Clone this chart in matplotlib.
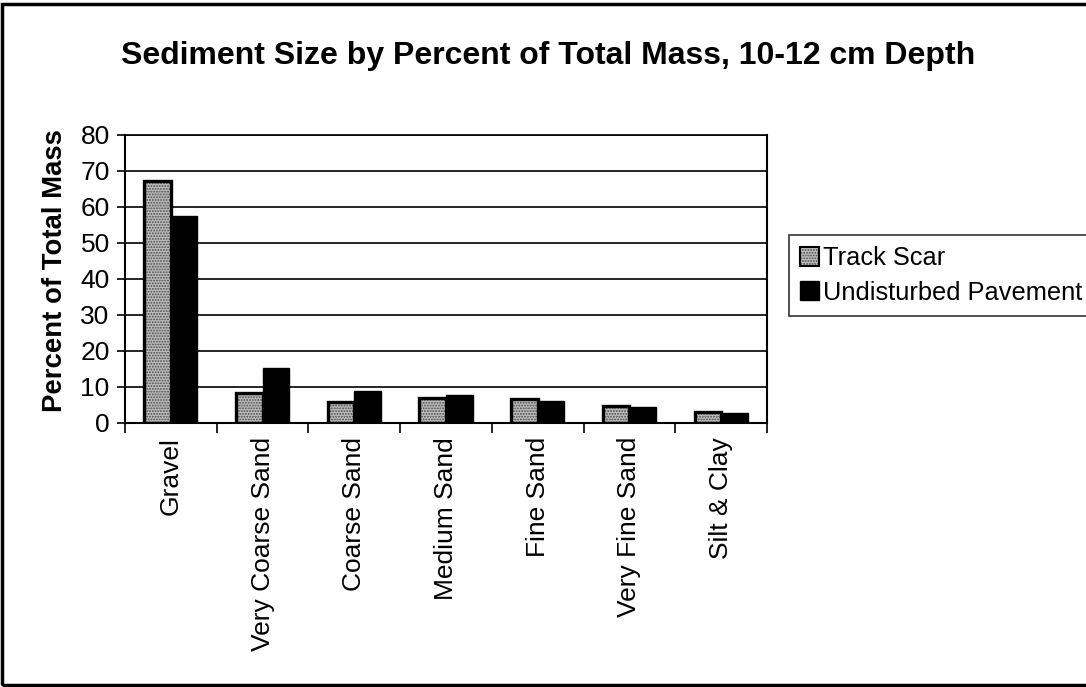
import matplotlib
matplotlib.use("Agg")
import matplotlib.pyplot as plt
import numpy as np
from matplotlib.patches import Patch, Rectangle
from matplotlib.legend_handler import HandlerTuple

plt.rcParams['font.family'] = ['Liberation Sans', 'DejaVu Sans']
plt.rcParams['hatch.linewidth'] = 0.9

categories = ["Gravel", "Very Coarse Sand", "Coarse Sand", "Medium Sand",
              "Fine Sand", "Very Fine Sand", "Silt & Clay"]
track_scar = [67.3, 8.2, 5.8, 7.0, 6.6, 4.8, 3.0]
undisturbed = [57.4, 15.4, 8.8, 7.7, 6.1, 4.5, 2.9]
y_ticks = [0, 10, 20, 30, 40, 50, 60, 70, 80]

fig = plt.figure(figsize=(10.86, 6.87), dpi=100)
ax = fig.add_axes([0.1151, 0.3843, 0.5912, 0.4192])

x = np.arange(len(categories))
w = 0.29

# stippled gray fill, then a heavy black outline on top
ax.bar(x - w / 2, track_scar, w, color='#bdbdbd', hatch='......',
       edgecolor='#4a4a4a', linewidth=0, zorder=3)
ax.bar(x - w / 2, track_scar, w, fill=False, edgecolor='black',
       linewidth=2.4, zorder=4)
ax.bar(x + w / 2, undisturbed, w, color='black', edgecolor='black',
       linewidth=1, zorder=3)

ax.set_xlim(-0.5, len(categories) - 0.5)
ax.set_ylim(0, 80)
ax.set_yticks(y_ticks)
ax.yaxis.grid(True, color='black', linewidth=1.2, zorder=0)
ax.set_axisbelow(True)

ax.set_xticks(x)
ax.set_xticklabels(categories, rotation=90, fontsize=19)
ax.tick_params(axis='x', length=0, pad=10)
ax.set_xticks(np.arange(len(categories) + 1) - 0.5, minor=True)
ax.tick_params(axis='x', which='minor', length=7, width=1.2, direction='out')
ax.tick_params(axis='y', labelsize=19, length=6, width=1.2, pad=5)
for s in ax.spines.values():
    s.set_linewidth(1.5)
ax.spines['top'].set_linewidth(1.2)

ax.set_ylabel("Percent of Total Mass", fontsize=19.8, fontweight='bold')
ax.yaxis.set_label_coords(-0.088, 0.53)

fig.text(0.505, 0.918, "Sediment Size by Percent of Total Mass, 10-12 cm Depth",
         ha='center', va='center', fontsize=23, fontweight='bold')

h1 = (Patch(facecolor='#bdbdbd', hatch='......', edgecolor='#4a4a4a', linewidth=0),
      Patch(fill=False, edgecolor='black', linewidth=1.5))
h2 = Patch(facecolor='black', edgecolor='black')
leg = fig.legend([h1, h2], ["Track Scar", "Undisturbed Pavement"],
                 loc='upper left', bbox_to_anchor=(0.7265, 0.658),
                 fontsize=18.3, frameon=True, fancybox=False,
                 edgecolor='black', borderaxespad=0, handlelength=0.75,
                 handleheight=0.75, handletextpad=0.15, labelspacing=0.4,
                 borderpad=0.45, handler_map={tuple: HandlerTuple(ndivide=1)})
leg.get_frame().set_linewidth(1.2)

# outer chart border
fig.patches.append(Rectangle((0.002, 0.003), 1.1, 0.991, transform=fig.transFigure,
                             fill=False, edgecolor='black', linewidth=2.5))

fig.savefig("out.png", dpi=100)
